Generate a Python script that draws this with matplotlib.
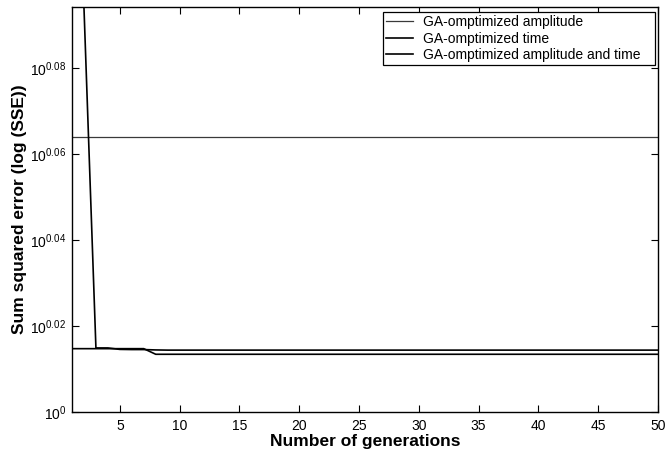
import matplotlib
matplotlib.use("Agg")
import matplotlib.pyplot as plt
import matplotlib.ticker as ticker
import numpy as np

plt.rcParams['font.family'] = ['Liberation Sans', 'DejaVu Sans']
plt.rcParams['mathtext.fontset'] = 'custom'
plt.rcParams['mathtext.rm'] = 'Liberation Sans'

# generations 1..50
generations = np.arange(1, 51)

# GA-omptimized amplitude: flat over all generations
sse_amplitude = np.full(50, 1.1585)

# GA-omptimized time: starts high, drops by generation 3
sse_time = np.concatenate([
    [1.49, 1.242, 1.0349, 1.0349, 1.0341, 1.0340, 1.0340, 1.0338],
    np.full(42, 1.0337),
])

# GA-omptimized amplitude and time: small step at generation 8
sse_amp_time = np.concatenate([
    np.full(7, 1.0345),
    np.full(43, 1.0314),
])

labels = ['GA-omptimized amplitude', 'GA-omptimized time',
          'GA-omptimized amplitude and time']
ytick_exps = [0, 0.02, 0.04, 0.06, 0.08]

fig = plt.figure(figsize=(6.65, 4.59), dpi=100)
ax = fig.add_axes([72 / 665, 1 - 412 / 459, 586 / 665, 405 / 459])

ax.plot(generations, sse_amplitude, color='#3a3a3a', lw=0.9, label=labels[0])
ax.plot(generations, sse_time, color='black', lw=1.2, label=labels[1])
# trailing spaces mimic the wide right padding of the original legend box
ax.plot(generations, sse_amp_time, color='black', lw=1.2,
        label=labels[2] + '   ')

ax.set_yscale('log')
ax.set_xlim(1, 50)
ax.set_ylim(1, 10 ** 0.0942)

ax.xaxis.set_major_locator(ticker.FixedLocator(np.arange(5, 51, 5)))
ax.yaxis.set_major_locator(ticker.FixedLocator([10 ** e for e in ytick_exps]))
ax.yaxis.set_minor_locator(ticker.NullLocator())
ax.yaxis.set_major_formatter(ticker.FixedFormatter(
    [r'$\mathregular{10^{%g}}$' % e for e in ytick_exps]))

ax.tick_params(which='both', direction='in', top=True, right=True,
               length=5, width=0.8, labelsize=10, pad=5)
ax.tick_params(axis='y', pad=4)
for s in ax.spines.values():
    s.set_linewidth(1.0)

ax.set_xlabel('Number of generations', fontsize=12.5, fontweight='bold',
              labelpad=1)
ax.set_ylabel('Sum squared error (log (SSE))', fontsize=12.5,
              fontweight='bold')
ax.yaxis.set_label_coords(-0.076, 0.5)

leg = ax.legend(loc='upper right', bbox_to_anchor=(655 / 665, 1 - 12 / 459),
                bbox_transform=fig.transFigure, borderaxespad=0,
                fancybox=False, edgecolor='black', fontsize=10,
                handlelength=2.0, handletextpad=0.7, labelspacing=0.2,
                borderpad=0.2, framealpha=1)
leg.get_frame().set_linewidth(0.9)

fig.savefig('out.png', dpi=100)
